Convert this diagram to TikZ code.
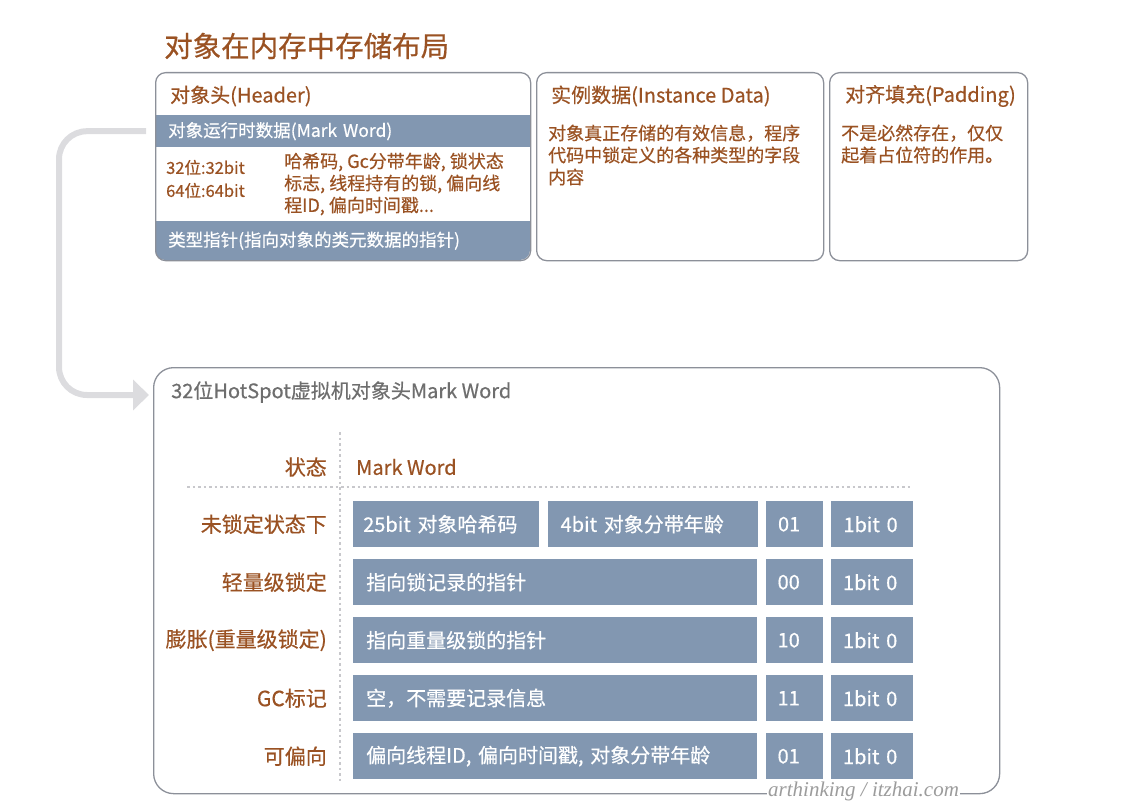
\documentclass[tikz,border=0pt]{standalone}
\usepackage{fontspec}
\setmainfont{Noto Sans CJK SC}[FakeBold=0.5]
\newfontfamily\wmfont{Liberation Serif}
\usetikzlibrary{arrows.meta,positioning}
\definecolor{txtbrown}{HTML}{9A5223}
\definecolor{bandblue}{HTML}{8297B1}
\definecolor{framegray}{HTML}{8C9099}
\definecolor{arrowgray}{HTML}{DCDCDF}
\definecolor{titlegray}{HTML}{6E6E6E}
\definecolor{dotgray}{HTML}{C8C8CC}
\definecolor{wmgray}{HTML}{9C9C9C}
\tikzset{
  panel/.style={draw=framegray,line width=1.3pt,rounded corners=10pt,
    anchor=north west,inner sep=0pt},
  band/.style={fill=bandblue,text=white,anchor=north west,inner xsep=13pt,
    inner ysep=0pt,text width=349pt,align=left,
    font=\fontsize{17.5}{20}\selectfont},
  ptitle/.style={anchor=west,text=txtbrown,inner sep=0pt,
    font=\fontsize{20}{22}\selectfont},
  ptext/.style={anchor=west,text=txtbrown,inner sep=0pt,align=left,
    font=\fontsize{18}{22}\selectfont},
  cell/.style={fill=bandblue,text=white,anchor=north west,minimum height=46pt,
    inner xsep=13pt,inner ysep=0pt,text width=#1,align=left,
    font=\fontsize{20}{24}\selectfont},
  bitcell/.style={cell=#1,inner xsep=12pt},
  rowlabel/.style={anchor=east,text=txtbrown,inner sep=0pt,
    font=\fontsize{21}{24}\selectfont},
  guide/.style={draw=dotgray,line width=2.5pt,dash pattern=on 2.5pt off 3pt},
  flow/.style={draw=arrowgray,line width=6pt,rounded corners=28pt,
    -{Triangle[length=16pt,width=30pt]}}
}
\begin{document}
\begin{tikzpicture}[x=1pt,y=-1pt]
\useasboundingbox (0,0) rectangle (1134,810);

\node[anchor=west,text=txtbrown,inner sep=0pt,font=\fontsize{28.5}{30}\selectfont]
  (title) at (164,46) {对象在内存中存储布局};

% object header
\begin{scope}
\clip[rounded corners=10pt] (155,72) rectangle (530,260);
\node[band,minimum height=32pt] (mwband) at (155,115) {对象运行时数据(Mark Word)};
\node[band,minimum height=39pt] (kpband) at (155,221) {类型指针(指向对象的类元数据的指针)};
\end{scope}
\node[panel,minimum width=375pt,minimum height=188pt] (hdr) at (155,72) {};
\node[ptitle] (hdrtitle) at (170,96) {对象头(Header)};
\node[ptext,font=\fontsize{16.5}{23}\selectfont] (hdrbits) at (166,179) {32位:32bit\\64位:64bit};
\node[ptext] (hdrinfo) at (284,184) {哈希码, Gc分带年龄, 锁状态\\标志, 线程持有的锁, 偏向线\\程ID, 偏向时间戳...};

% instance data
\node[panel,minimum width=287pt,minimum height=188pt] (inst) at (536,72) {};
\node[ptitle] (insttitle) at (551,96) {实例数据(Instance Data)};
\node[ptext] (instinfo) at (548,155) {对象真正存储的有效信息，程序\\代码中锁定义的各种类型的字段\\内容};

% padding
\node[panel,minimum width=198pt,minimum height=188pt] (pad) at (829,72) {};
\node[ptitle] (padtitle) at (845,96) {对齐填充(Padding)};
\node[ptext] (padinfo) at (841,144) {不是必然存在，仅仅\\起着占位符的作用。};

% mark word table
\node[panel,rounded corners=20pt,minimum width=846pt,minimum height=426pt] (hsbox) at (153,367) {};
\node[anchor=west,text=titlegray,inner sep=0pt,font=\fontsize{20}{22}\selectfont]
  (hstitle) at (171,392) {32位HotSpot虚拟机对象头Mark Word};

\draw[guide] (340,432) -- (340,782);
\draw[guide] (187,487) -- (910,487);

\node[rowlabel] (statehd) at (327,467) {状态};
\node[anchor=west,text=txtbrown,inner sep=0pt,font=\fontsize{20}{22}\selectfont]
  (mwhd) at (356,467) {Mark Word};

\node[cell=166pt,inner xsep=10pt] (hash1) at (353,501) {25bit 对象哈希码};
\node[cell=184pt,right=8pt of hash1] (age1) {4bit 对象分带年龄};
\node[bitcell=33pt,right=8pt of age1] (bits1) {01};
\node[bitcell=58pt,right=8pt of bits1] (bias1) {1bit 0};
\node[rowlabel,left=26pt of hash1] (lab1) {未锁定状态下};

\foreach \row/\top/\state/\ptr/\bits in {
  2/559/轻量级锁定/指向锁记录的指针/00,
  3/617/膨胀(重量级锁定)/指向重量级锁的指针/10,
  4/675/GC标记/空，不需要记录信息/11,
  5/733/可偏向/{偏向线程ID, 偏向时间戳, 对象分带年龄}/01}{
  \node[cell=378pt] (ptr\row) at (353,\top) {\ptr};
  \node[bitcell=33pt,right=8pt of ptr\row] (bits\row) {\bits};
  \node[bitcell=58pt,right=8pt of bits\row] (bias\row) {1bit 0};
  \node[rowlabel,left=26pt of ptr\row] (lab\row) {\state};
}

\draw[flow] ([xshift=-9pt]mwband.west) -- ++(-87,0)
  |- ([shift={(-4pt,-28pt)}]hsbox.north west);

\node[anchor=west,fill=white,inner sep=1pt,text=wmgray,
  font=\wmfont\itshape\fontsize{21}{24}\selectfont] (wm) at (767,791) {arthinking / itzhai.com};
\end{tikzpicture}
\end{document}
